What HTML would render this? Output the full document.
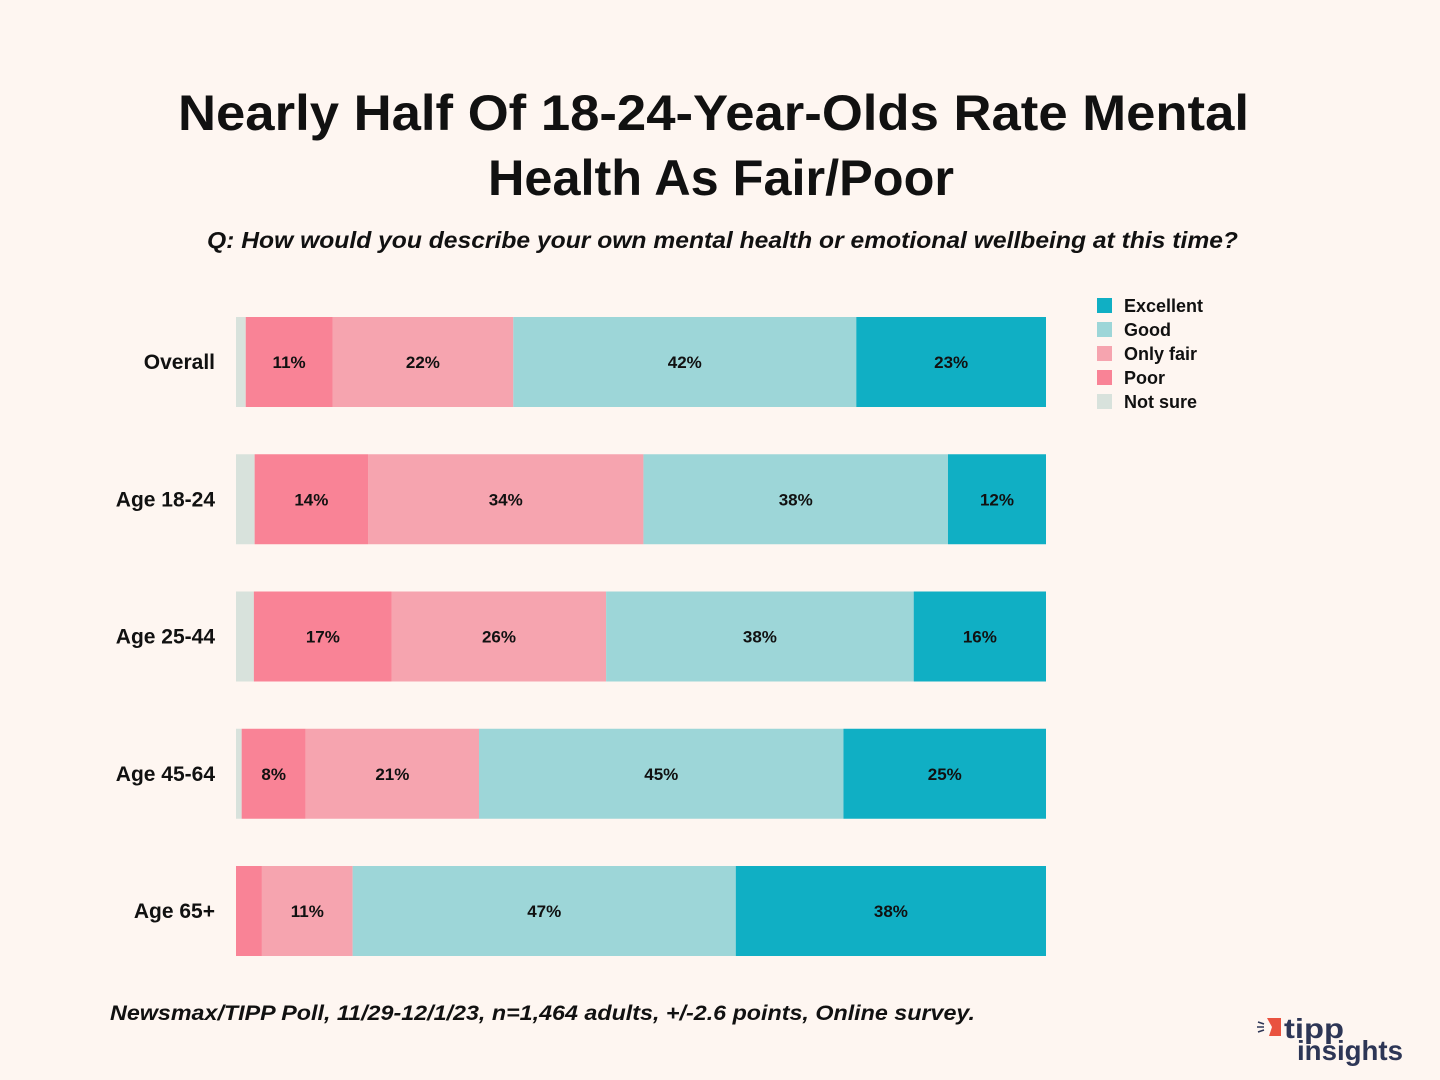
<!DOCTYPE html>
<html><head><meta charset="utf-8"><style>
body{margin:0;background:#fef6f1;}
svg{display:block;font-family:"Liberation Sans",sans-serif;}
</style></head><body>
<svg id="chart" width="1440" height="1080" viewBox="0 0 1440 1080">
<rect width="1440" height="1080" fill="#fef6f1"/>
<text x="178" y="130" textLength="1071" lengthAdjust="spacingAndGlyphs" font-size="50" font-weight="bold" fill="#111">Nearly Half Of 18-24-Year-Olds Rate Mental</text>
<text x="488" y="195" textLength="466" lengthAdjust="spacingAndGlyphs" font-size="50" font-weight="bold" fill="#111">Health As Fair/Poor</text>
<text x="207" y="248" textLength="1031" lengthAdjust="spacingAndGlyphs" font-size="23" font-style="italic" font-weight="bold" fill="#111">Q: How would you describe your own mental health or emotional wellbeing at this time?</text>
<g id="bars"></g>
<g id="legend"></g>
<text x="110" y="1020" textLength="865" lengthAdjust="spacingAndGlyphs" font-size="21" font-style="italic" font-weight="bold" fill="#111">Newsmax/TIPP Poll, 11/29-12/1/23, n=1,464 adults, +/-2.6 points, Online survey.</text>
<g>
<path d="M1267 1018 L1281 1018 L1281 1036 L1269 1036 L1272 1027 Z" fill="#e9523f"/>
<line x1="1258" y1="1022" x2="1264" y2="1024" stroke="#2d3656" stroke-width="1.5"/>
<line x1="1257" y1="1027" x2="1264" y2="1027" stroke="#2d3656" stroke-width="1.5"/>
<line x1="1258" y1="1032" x2="1264" y2="1030" stroke="#2d3656" stroke-width="1.5"/>
<text x="1284" y="1038" textLength="60" lengthAdjust="spacingAndGlyphs" font-size="28" font-weight="bold" fill="#2d3656">tipp</text>
<text x="1297" y="1060" textLength="106" lengthAdjust="spacingAndGlyphs" font-size="28" font-weight="bold" fill="#2d3656">insights</text>
</g>
</svg>
<script>
const categories = ["Overall","Age 18-24","Age 25-44","Age 45-64","Age 65+"];
const seriesNames = ["Not sure","Poor","Only fair","Good","Excellent"];
const notSure = [1.2, 2.3, 2.2, 0.7, 0];
const poor = [10.7, 14, 17, 7.9, 3.2];
const onlyFair = [22.3, 34, 26.4, 21.4, 11.2];
const good = [42.3, 37.6, 37.9, 45, 47.3];
const excellent = [23.4, 12.1, 16.3, 25, 38.3];
const colors = ["#d8e2dc","#f98396","#f6a4af","#9dd6d8","#10afc4"];
const series = [notSure, poor, onlyFair, good, excellent];
const NS = "http://www.w3.org/2000/svg";
const x0 = 236, x1 = 1046, rowTop = 317, rowStep = 137.25, barH = 90;
function xs(total, v){ return (v/total)*(x1-x0); }
function yRow(i){ return rowTop + i*rowStep; }
const bars = document.getElementById("bars");
categories.forEach((cat,i)=>{
  const total = series.reduce((s,a)=>s+a[i],0);
  let cum = 0;
  const y = yRow(i);
  const lab = document.createElementNS(NS,"text");
  lab.setAttribute("x",215); lab.setAttribute("y",y+barH/2+7);
  lab.setAttribute("text-anchor","end"); lab.setAttribute("font-size","21");
  lab.setAttribute("font-weight","bold"); lab.setAttribute("fill","#111");
  lab.textContent = cat;
  
  
  bars.appendChild(lab);
  series.forEach((arr,s)=>{
    const v = arr[i];
    if(v<=0) return;
    const xa = x0 + xs(total,cum), w = xs(total,v);
    const r = document.createElementNS(NS,"rect");
    r.setAttribute("x",xa); r.setAttribute("y",y); r.setAttribute("width",w); r.setAttribute("height",barH);
    r.setAttribute("fill",colors[s]);
    
    
    bars.appendChild(r);
    if(v>=7.5){
      const t = document.createElementNS(NS,"text");
      t.setAttribute("x",xa+w/2); t.setAttribute("y",y+barH/2+6);
      t.setAttribute("text-anchor","middle"); t.setAttribute("font-size","17");
      t.setAttribute("font-weight","bold"); t.setAttribute("fill","#111");
      t.textContent = Math.round(v)+"%";
      
      
      bars.appendChild(t);
    }
    cum += v;
  });
});
const legend = document.getElementById("legend");
[4,3,2,1,0].forEach((s,k)=>{
  const y = 298 + k*24;
  const r = document.createElementNS(NS,"rect");
  r.setAttribute("x",1097); r.setAttribute("y",y); r.setAttribute("width",15); r.setAttribute("height",15);
  r.setAttribute("fill",colors[s]);
  
  
  legend.appendChild(r);
  const t = document.createElementNS(NS,"text");
  t.setAttribute("x",1124); t.setAttribute("y",y+14);
  t.setAttribute("font-size","18"); t.setAttribute("font-weight","bold"); t.setAttribute("fill","#111");
  t.textContent = seriesNames[s];
  
  
  legend.appendChild(t);
});
</script>
</body></html>
